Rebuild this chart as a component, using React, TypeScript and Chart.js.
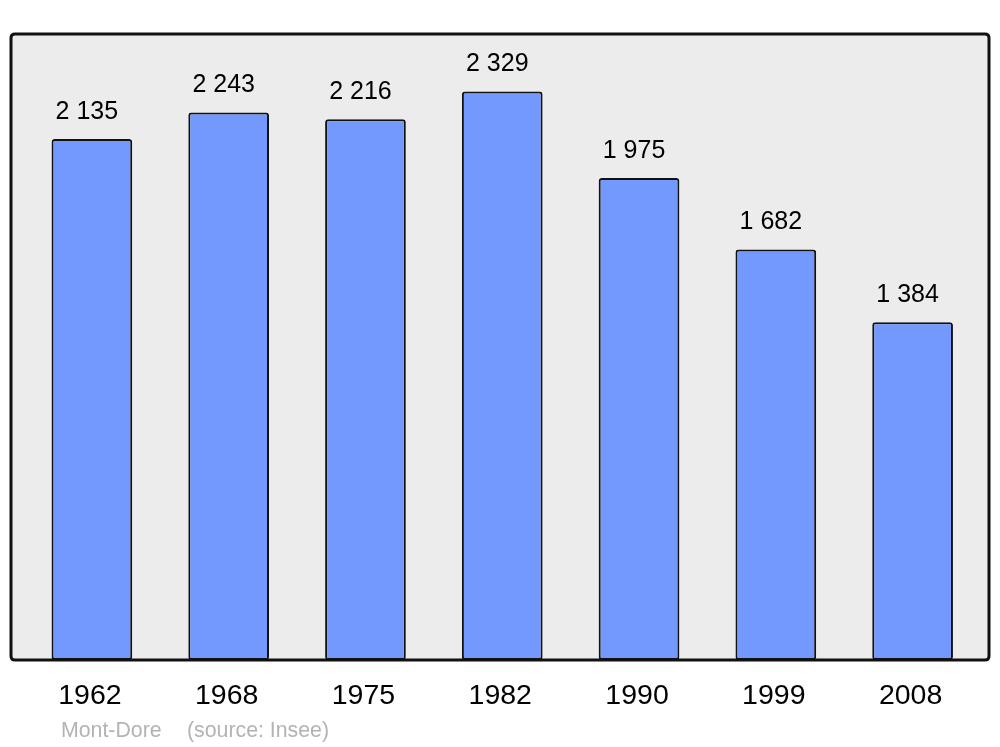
import React, { useEffect, useRef } from "react";
import { Chart, registerables } from "chart.js";

Chart.register(...registerables);

const categories = ["1962", "1968", "1975", "1982", "1990", "1999", "2008"];
const populations = [2135, 2243, 2216, 2329, 1975, 1682, 1384];
const valueLabels = ["2 135", "2 243", "2 216", "2 329", "1 975", "1 682", "1 384"];
const footerName = "Mont-Dore";
const footerSource = "(source: Insee)";

const FONT = "'Liberation Sans', Arial, sans-serif";

function roundRect(ctx: CanvasRenderingContext2D, x: number, y: number, w: number, h: number, r: number) {
  ctx.beginPath();
  ctx.moveTo(x + r, y);
  ctx.lineTo(x + w - r, y);
  ctx.quadraticCurveTo(x + w, y, x + w, y + r);
  ctx.lineTo(x + w, y + h - r);
  ctx.quadraticCurveTo(x + w, y + h, x + w - r, y + h);
  ctx.lineTo(x + r, y + h);
  ctx.quadraticCurveTo(x, y + h, x, y + h - r);
  ctx.lineTo(x, y + r);
  ctx.quadraticCurveTo(x, y, x + r, y);
  ctx.closePath();
}

const framePlugin = {
  id: "frame",
  beforeDatasetsDraw(chart: any) {
    const { ctx, chartArea } = chart;
    ctx.save();
    const x = chartArea.left - 12.5;
    const w = chartArea.right + 8 - x;
    roundRect(ctx, x, chartArea.top, w, chartArea.bottom - chartArea.top, 4);
    ctx.fillStyle = "#ececec";
    ctx.fill();
    ctx.restore();
  },
  afterDatasetsDraw(chart: any) {
    const { ctx, chartArea, scales } = chart;
    ctx.save();
    const x = chartArea.left - 12.5;
    const w = chartArea.right + 8 - x;
    roundRect(ctx, x, chartArea.top, w, chartArea.bottom - chartArea.top, 4);
    ctx.lineWidth = 3;
    ctx.strokeStyle = "#111";
    ctx.stroke();

    const meta = chart.getDatasetMeta(0);
    ctx.fillStyle = "#000";
    ctx.textAlign = "center";
    ctx.textBaseline = "middle";
    ctx.font = `25px ${FONT}`;
    meta.data.forEach((bar: any, i: number) => {
      ctx.fillText(valueLabels[i], bar.x - 5, bar.y - 27);
    });

    ctx.font = `28.5px ${FONT}`;
    categories.forEach((c, i) => {
      ctx.fillText(c, scales.x.getPixelForTick(i) - 2, chartArea.bottom + 36);
    });

    ctx.fillStyle = "#b3b3b3";
    ctx.font = `21.3px ${FONT}`;
    ctx.textAlign = "left";
    ctx.fillText(footerName, 61, 731);
    ctx.fillText(footerSource, 187, 731);
    ctx.restore();
  },
};

export default function App() {
  const ref = useRef<HTMLCanvasElement>(null);
  useEffect(() => {
    if (!ref.current) return;
    const chart = new Chart(ref.current, {
      type: "bar",
      data: {
        labels: categories,
        datasets: [
          {
            data: populations,
            backgroundColor: "#7399ff",
            borderColor: "#111",
            borderWidth: 2,
            borderRadius: 3,
            borderSkipped: false,
            barPercentage: 0.59,
            categoryPercentage: 1,
          },
        ],
      },
      options: {
        responsive: false,
        animation: false,
        layout: { padding: { top: 34, bottom: 87, left: 23.5, right: 19 } },
        plugins: { legend: { display: false }, tooltip: { enabled: false } },
        scales: {
          x: { display: false },
          y: { display: false, min: 0, max: 2565 },
        },
      },
      plugins: [framePlugin],
    });
    return () => chart.destroy();
  }, []);
  return (
    <div style={{ position: "absolute", left: 0, top: 0, width: 1000, height: 747, background: "#fff" }}>
      <canvas ref={ref} width={1000} height={747} />
    </div>
  );
}
